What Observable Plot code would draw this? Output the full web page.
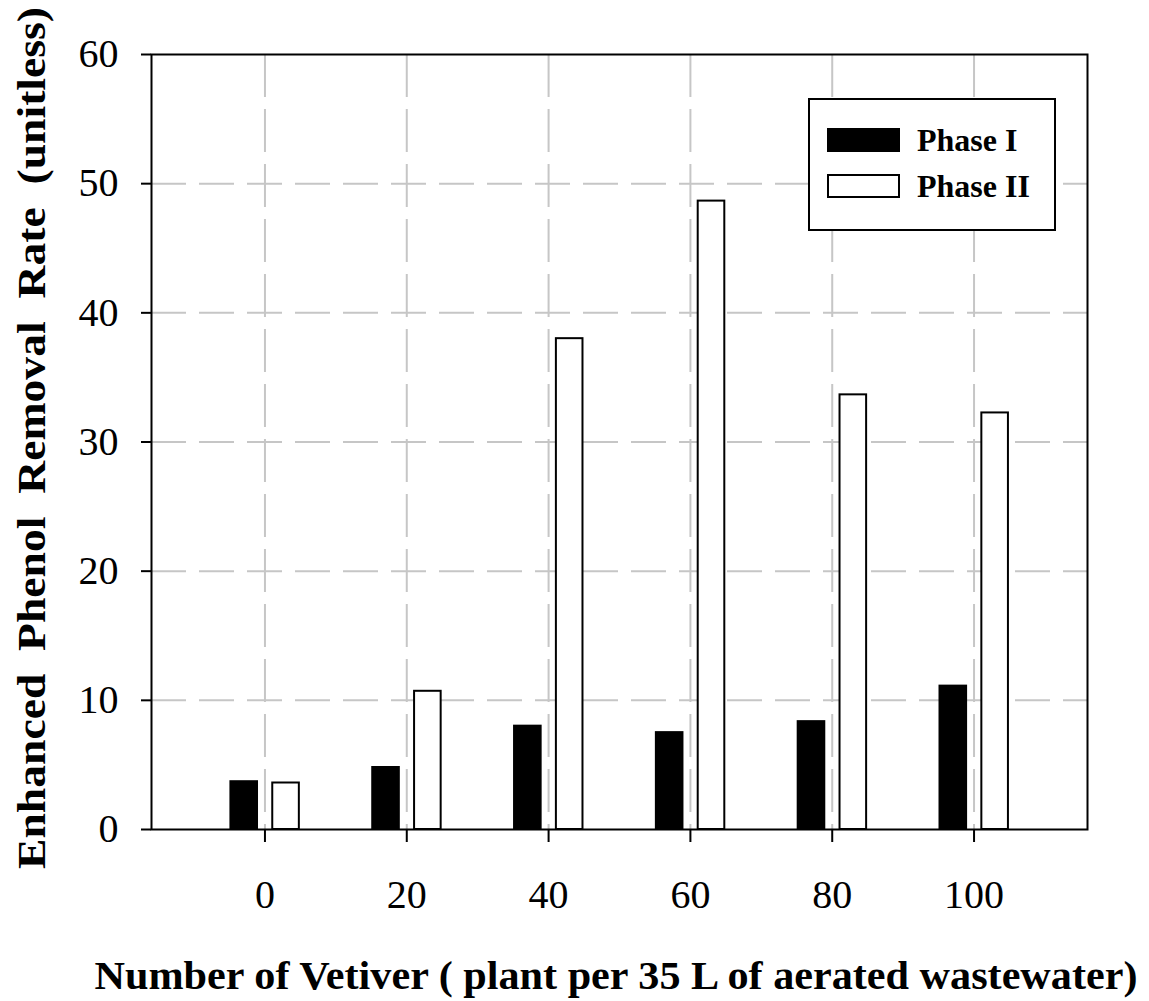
<!DOCTYPE html>
<html>
<head>
<meta charset="utf-8">
<script src="https://cdn.jsdelivr.net/npm/d3@7"></script>
<script src="https://cdn.jsdelivr.net/npm/@observablehq/plot@0.6"></script>
<style>
  html, body { margin: 0; padding: 0; background: #fff; }
  #chart svg { display: block; }
</style>
</head>
<body>
<div id="chart"></div>
<script>
// ---- data ----
const vetiver = [0, 20, 40, 60, 80, 100];
const phaseI  = [3.7, 4.8, 8.0, 7.5, 8.35, 11.1];
const phaseII = [3.6, 10.7, 38.0, 48.65, 33.65, 32.25];
const seriesNames = ["Phase I", "Phase II"];
const seriesFills = ["black", "white"];
const xTicks = [0, 20, 40, 60, 80, 100];
const yTicks = [0, 10, 20, 30, 40, 50, 60];
const xTitle = "Number of Vetiver ( plant per 35 L of aerated wastewater)";
const yTitle = "Enhanced  Phenol  Removal  Rate  (unitless)";

// ---- build table ----
const rows = vetiver.flatMap((v, i) => [
  {v, phase: seriesNames[0], value: phaseI[i]},
  {v, phase: seriesNames[1], value: phaseII[i]}
]);
// bar placement inside each group (x units)
const barSide = {"Phase I": [-4.8, -1.05], "Phase II": [1.1, 4.85]};

const FONT = "'Liberation Serif', 'Times New Roman', serif";

const chart = Plot.plot({
  width: 1149,
  height: 1001,
  marginLeft: 151,
  marginRight: 62,
  marginTop: 54,
  marginBottom: 172,
  style: {fontFamily: FONT, fontSize: "40px", color: "black", background: "white"},
  x: {type: "linear", domain: [-16, 116]},
  y: {domain: [0, 60]},
  color: {domain: seriesNames, range: seriesFills},
  marks: [
    Plot.ruleY(yTicks.filter(d => d > 0 && d < 60), {stroke: "#c6c6c6", strokeWidth: 2, strokeDasharray: "35,13"}),
    Plot.ruleX(xTicks, {stroke: "#c6c6c6", strokeWidth: 2, strokeDasharray: "43,12"}),
    Plot.rect(rows, {
      x1: d => d.v + barSide[d.phase][0],
      x2: d => d.v + barSide[d.phase][1],
      y1: 0,
      y2: "value",
      fill: "phase",
      stroke: "black",
      strokeWidth: 2
    }),
    Plot.frame({stroke: "black", strokeWidth: 2}),
    Plot.axisY(yTicks, {tickSize: 10, tickPadding: 23, label: null, fontSize: 40, strokeWidth: 2}),
    Plot.axisX(xTicks, {tickSize: 13, tickPadding: 37, label: null, fontSize: 40, strokeWidth: 2})
  ]
});

document.getElementById("chart").appendChild(chart);

// ---- titles and legend ----
const svg = d3.select(chart);

svg.append("text")
  .attr("transform", "translate(31,438) rotate(-90)")
  .attr("text-anchor", "middle")
  .attr("dy", "0.35em")
  .attr("font-family", FONT)
  .attr("font-weight", "bold")
  .attr("font-size", 40)
  .attr("fill", "black")
  .attr("textLength", 862)
  .attr("lengthAdjust", "spacingAndGlyphs")
  .text(yTitle);

svg.append("text")
  .attr("x", 616)
  .attr("y", 989)
  .attr("text-anchor", "middle")
  .attr("font-family", FONT)
  .attr("font-weight", "bold")
  .attr("font-size", 40)
  .attr("fill", "black")
  .attr("textLength", 1043)
  .attr("lengthAdjust", "spacingAndGlyphs")
  .text(xTitle);

const lg = svg.append("g");
lg.append("rect")
  .attr("x", 809).attr("y", 99).attr("width", 246).attr("height", 131)
  .attr("fill", "white").attr("stroke", "black").attr("stroke-width", 2);
seriesNames.forEach((name, i) => {
  const yTop = 129 + i * 46;
  lg.append("rect")
    .attr("x", 828).attr("y", yTop).attr("width", 71).attr("height", 22)
    .attr("fill", seriesFills[i]).attr("stroke", "black").attr("stroke-width", 2);
  lg.append("text")
    .attr("x", 917).attr("y", yTop + 22)
    .attr("text-anchor", "start")
    .attr("font-family", FONT).attr("font-weight", "bold").attr("font-size", 32)
    .attr("fill", "black")
    .text(name);
});
</script>
</body>
</html>
